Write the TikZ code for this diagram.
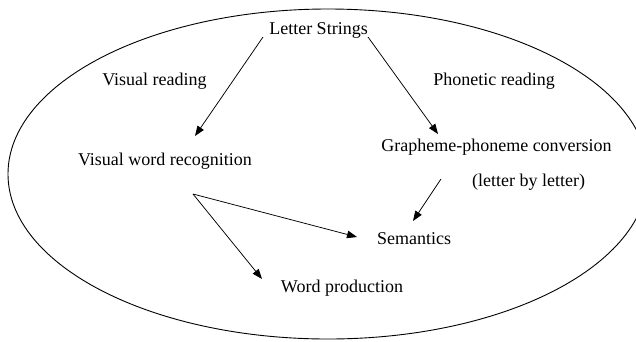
\documentclass[tikz,border=0pt]{standalone}
\usepackage{fontspec}
\setmainfont{Liberation Serif}
\usetikzlibrary{arrows.meta}
\begin{document}
\begin{tikzpicture}[x=1pt,y=-1pt,
  lbl/.style={anchor=base,inner sep=0pt,font=\fontsize{18}{20}\selectfont},
  arr/.style={line width=0.75pt,-{Triangle[length=10pt,width=7.5pt]}},
  oval/.style={line width=0.9pt}]
\useasboundingbox (0,0) rectangle (636,341);
\begin{scope}
\clip (0,0) rectangle (636,341);
\draw[oval] (328,174) ellipse [x radius=320, y radius=165];
\end{scope}
\node[lbl] (ls) at (318.5,34) {Letter Strings};
\node[lbl] (vr) at (154.5,85) {Visual reading};
\node[lbl] (pr) at (494,85) {Phonetic reading};
\node[lbl] (vwr) at (165,165) {Visual word recognition};
\node[lbl] (gpc) at (496.5,151) {Grapheme-phoneme conversion};
\node[lbl] (lbl) at (528.5,186) {(letter by letter)};
\node[lbl] (sem) at (414,244) {Semantics};
\node[lbl] (wp) at (342,292) {Word production};
\coordinate (lsL) at (263,37);
\coordinate (lsR) at (368,37);
\coordinate (vwrIn) at (195,136);
\coordinate (gpcIn) at (438,134);
\coordinate (gpcOut) at (441,179);
\coordinate (semIn) at (413,221);
\coordinate (vwrOut) at (193,194);
\coordinate (semIn2) at (357,237);
\coordinate (wpIn) at (262,279);
\draw[arr] (lsL) -- (vwrIn);
\draw[arr] (lsR) -- (gpcIn);
\draw[arr] (gpcOut) -- (semIn);
\draw[arr] (vwrOut) -- (semIn2);
\draw[arr] (vwrOut) -- (wpIn);
\end{tikzpicture}
\end{document}
